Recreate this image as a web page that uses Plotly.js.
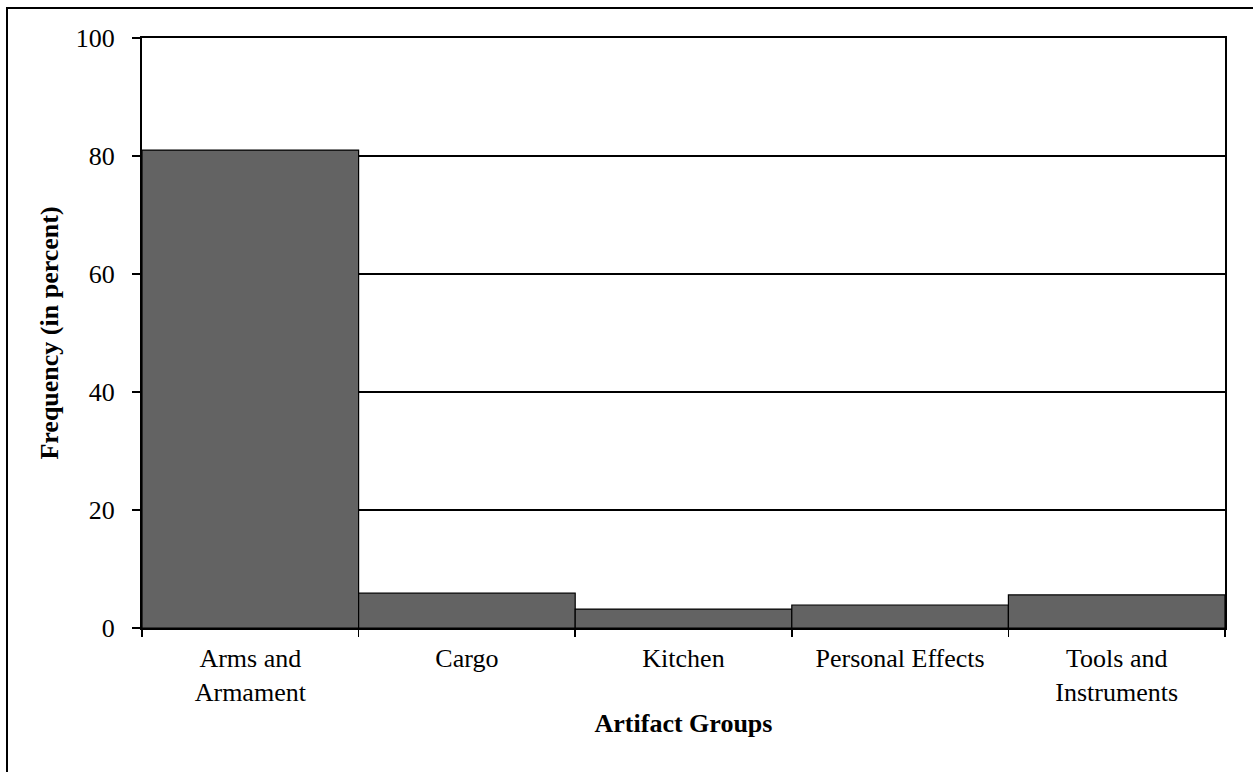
<!DOCTYPE html>
<html>
<head>
<meta charset="utf-8">
<script src="https://cdn.plot.ly/plotly-3.0.1.min.js"></script>
<style>
html,body{margin:0;padding:0;background:#fff;overflow:hidden;}
#frame{position:absolute;left:6px;top:7px;width:1300px;height:800px;border:2px solid #000;}
#chart{position:absolute;left:0;top:0;width:1253px;height:772px;}
</style>
</head>
<body>
<div id="frame"></div>
<div id="chart"></div>
<script>
const categories = ["Arms and<br>Armament", "Cargo", "Kitchen", "Personal Effects", "Tools and<br>Instruments"];
const frequency = [81.0, 5.9, 3.2, 3.9, 5.6];
const yTicks = [0, 20, 40, 60, 80, 100];

const font = {family: "Liberation Serif", size: 26, color: "#000"};
const titleFont = {family: "Liberation Serif", size: 26, color: "#000", weight: "bold"};

Plotly.newPlot("chart", [{
  type: "bar",
  x: categories,
  y: frequency,
  marker: {color: "#636363", line: {color: "#000", width: 1.2}},
  hoverinfo: "none"
}], {
  width: 1253, height: 772,
  margin: {l: 142, r: 28, t: 38, b: 144},
  paper_bgcolor: "rgba(0,0,0,0)",
  plot_bgcolor: "rgba(0,0,0,0)",
  bargap: 0,
  showlegend: false,
  font: font,
  xaxis: {
    type: "category",
    showline: true, linecolor: "#000", linewidth: 2, mirror: true,
    showgrid: false,
    ticks: "outside", tickson: "boundaries", ticklen: 7, tickwidth: 1.5, tickcolor: "#000",
    ticklabelstandoff: 6,
    tickfont: font,
    title: {text: "Artifact Groups", font: titleFont, standoff: 8}
  },
  yaxis: {
    range: [0, 100],
    tickvals: yTicks,
    showline: true, linecolor: "#000", linewidth: 2, mirror: true,
    showgrid: true, gridcolor: "#000", gridwidth: 1.5,
    zeroline: false,
    ticks: "outside", ticklen: 8, tickwidth: 1.5, tickcolor: "#000",
    ticklabelstandoff: 12,
    tickfont: font,
    title: {text: "Frequency (in percent)", font: titleFont, standoff: 10}
  }
}, {staticPlot: true});
</script>
</body>
</html>
